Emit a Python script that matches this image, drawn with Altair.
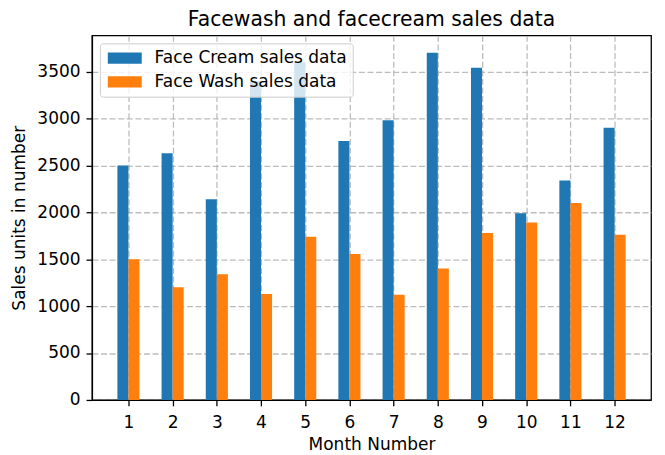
import altair as alt
import pandas as pd

months = list(range(1, 13))
face_cream = [2500, 2630, 2140, 3400, 3600, 2760, 2980, 3700, 3540, 1990, 2340, 2900]
face_wash = [1500, 1200, 1340, 1130, 1740, 1555, 1120, 1400, 1780, 1890, 2100, 1760]
series_names = ["Face Cream sales data", "Face Wash sales data"]
colors = ["#1f77b4", "#ff7f0e"]
y_ticks = [0, 500, 1000, 1500, 2000, 2500, 3000, 3500]
bar_w = 0.25

rows = []
for m, v in zip(months, face_cream):
    rows.append({"month": m, "sales": v, "series": series_names[0], "x0": m - bar_w, "x1": m})
for m, v in zip(months, face_wash):
    rows.append({"month": m, "sales": v, "series": series_names[1], "x0": m, "x1": m + bar_w})
df = pd.DataFrame(rows)

font = "DejaVu Sans"
fs = 17.2

chart = (
    alt.Chart(df)
    .mark_rect()
    .encode(
        x=alt.X(
            "x0:Q",
            scale=alt.Scale(domain=[0.175, 12.825], nice=False, zero=False),
            axis=alt.Axis(values=months, format="d", title="Month Number",
                          labelPadding=8, titlePadding=5),
        ),
        x2="x1:Q",
        y=alt.Y(
            "sales:Q",
            scale=alt.Scale(domain=[0, 3885], nice=False),
            axis=alt.Axis(values=y_ticks, format="d", title="Sales units in number",
                          labelPadding=6, titlePadding=9),
        ),
        y2=alt.datum(0),
        color=alt.Color(
            "series:N",
            scale=alt.Scale(domain=series_names, range=colors),
            legend=alt.Legend(
                title=None,
                orient="none",
                legendX=8,
                legendY=8,
                symbolType="M-2.5,-0.83L2.5,-0.83L2.5,0.83L-2.5,0.83Z",
                symbolSize=189,
                symbolOffset=10.3,
                symbolStrokeWidth=0,
                symbolOpacity=1,
                labelFont=font,
                labelFontSize=fs,
                labelColor="black",
                labelOffset=21.6,
                labelLimit=0,
                padding=6.3,
                rowPadding=6,
                strokeColor="#cccccc",
                fillColor="rgba(255,255,255,0.8)",
                cornerRadius=3,
                zindex=2,
            ),
        ),
    )
    .properties(
        width=566,
        height=369,
        autosize=alt.AutoSizeParams(type="none"),
        padding={"left": 85, "top": 25, "right": 6, "bottom": 56},
        title=alt.Title(
            "Facewash and facecream sales data",
            font=font,
            fontSize=20.6,
            fontWeight="normal",
            color="black",
            anchor="middle",
            offset=5,
        ),
    )
    .configure_view(stroke="black", strokeWidth=1.3)
    .configure_axis(
        domainColor="black",
        domainWidth=1.3,
        tickColor="black",
        tickWidth=1.3,
        tickSize=6,
        labelColor="black",
        titleColor="black",
        labelFont=font,
        titleFont=font,
        labelFontSize=fs,
        titleFontSize=fs,
        titleFontWeight="normal",
        gridColor="#b0b0b0",
        gridOpacity=0.85,
        gridDash=[6, 2.7],
        gridWidth=1.3,
        zindex=1,
    )
)

chart.save("out.html", embed_options={"renderer": "svg", "actions": False})
